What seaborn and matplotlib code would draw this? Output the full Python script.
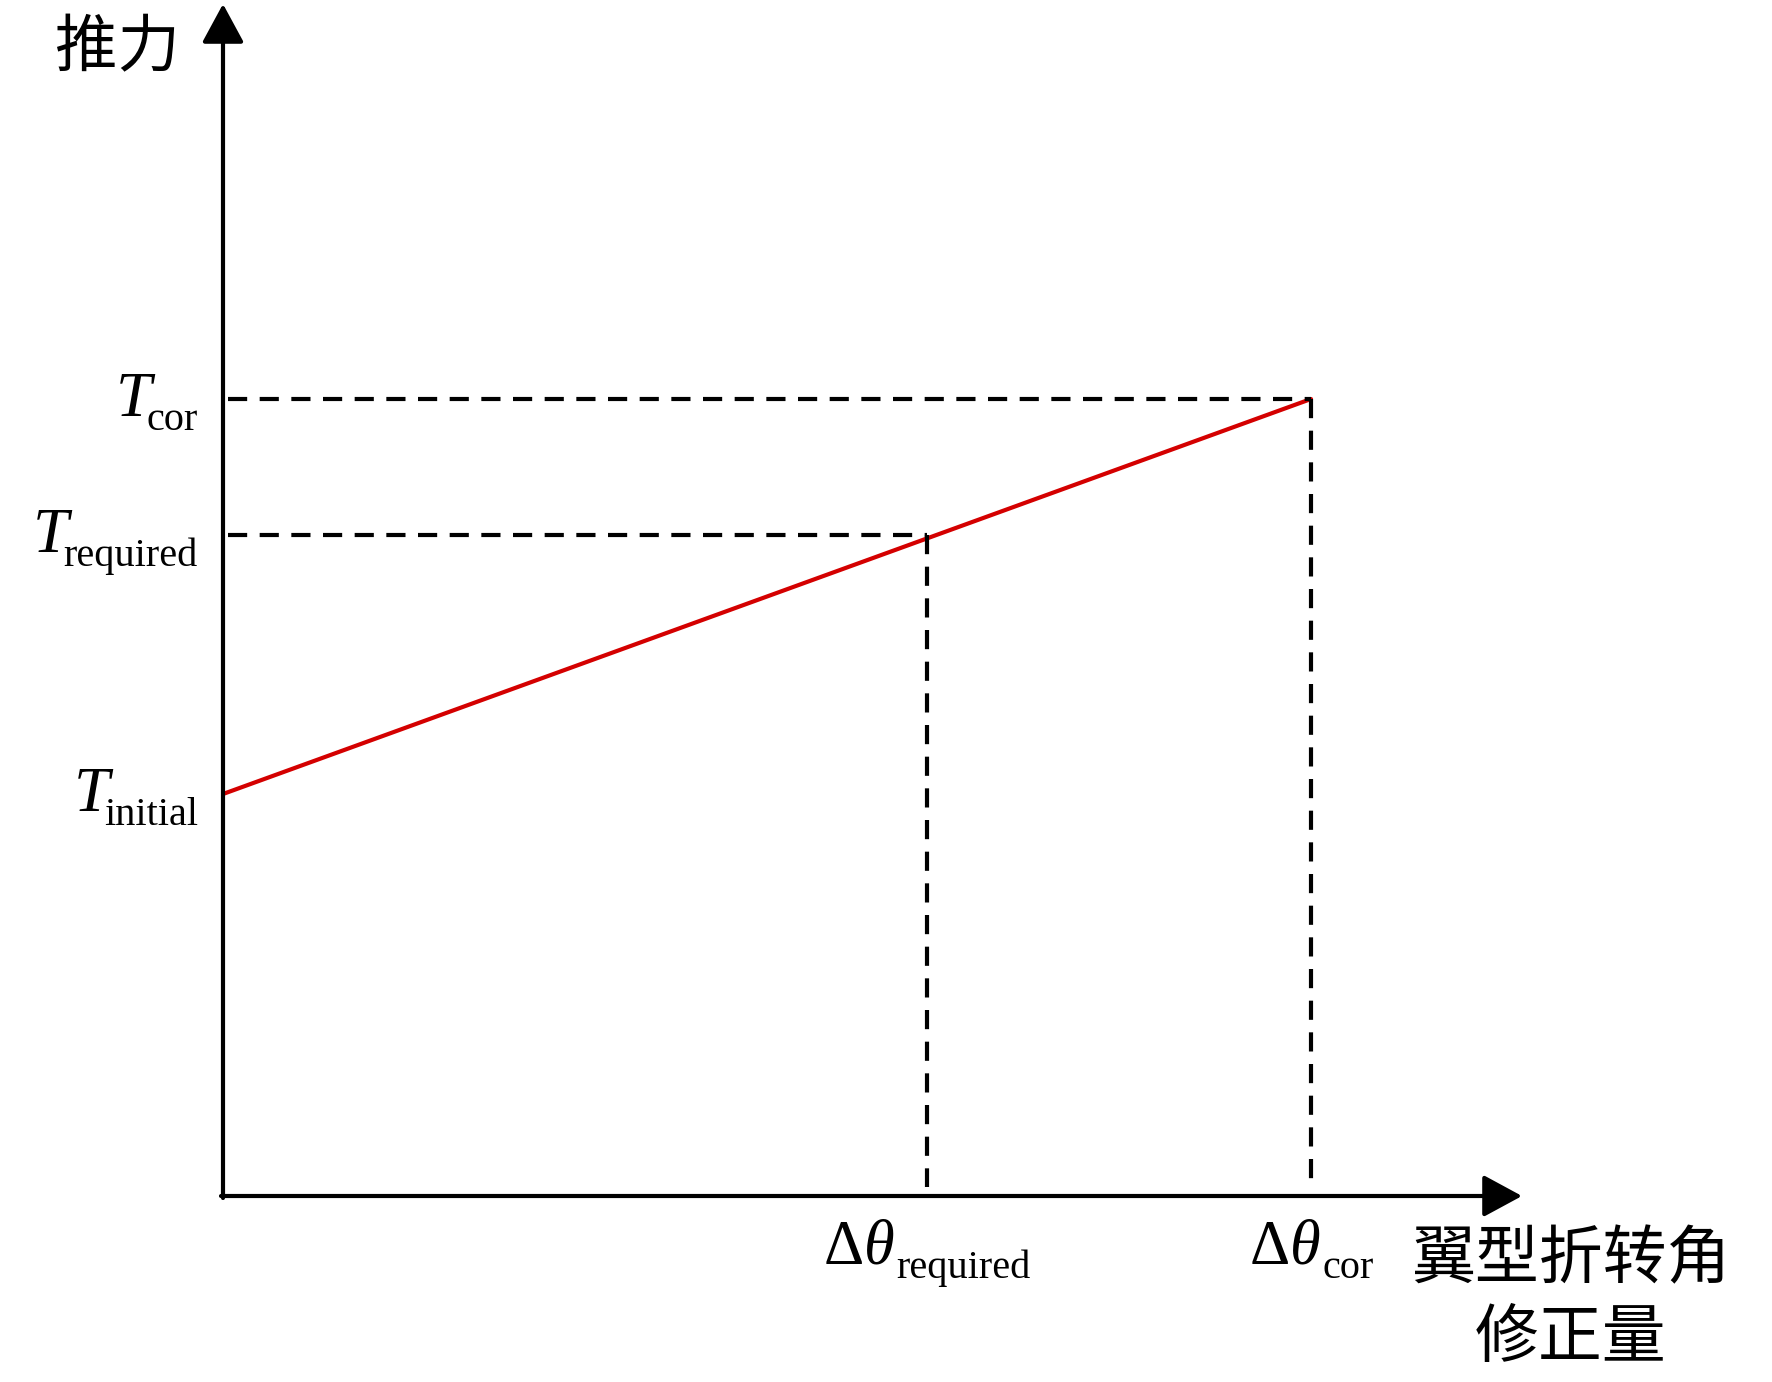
import matplotlib
matplotlib.use('Agg')
import matplotlib.pyplot as plt
import seaborn as sns
import pandas as pd

# schematic values (arbitrary units)
dtheta = [0, 1088]          # correction angle: start, cor
thrust = [402, 797]         # T_initial -> T_cor
dtheta_required = 704
dtheta_cor = 1088
T_initial = 402
T_required = 661
T_cor = 797

x_max = 1297
y_max = 1192

y_ticks = [T_cor, T_required, T_initial]
y_subs = ['cor', 'required', 'initial']
x_ticks = [dtheta_required, dtheta_cor]
x_subs = ['required', 'cor']

sns.set_style('white')
plt.rcParams['font.family'] = ['Liberation Serif', 'DejaVu Serif']
plt.rcParams['text.color'] = 'black'
plt.rcParams['mathtext.fontset'] = 'custom'
plt.rcParams['mathtext.rm'] = 'Liberation Serif'
plt.rcParams['mathtext.it'] = 'Liberation Serif:italic'

W, H = 1772, 1382
ox, oy = 223, 1196
fig = plt.figure(figsize=(W / 100, H / 100), dpi=100)
ax = fig.add_axes([ox / W, (H - oy) / H, x_max / W, y_max / H])
ax.set_xlim(0, x_max)
ax.set_ylim(0, y_max)
ax.axis('off')

# red thrust line
df = pd.DataFrame({'dtheta': dtheta, 'thrust': thrust})
sns.lineplot(data=df, x='dtheta', y='thrust', color='#d40000', lw=3, ax=ax)

# dashed guide lines
dash = dict(color='black', lw=3, dashes=(4.6, 3.0))
ax.plot([5, dtheta_cor], [T_cor, T_cor], **dash)
ax.plot([dtheta_cor, dtheta_cor], [T_cor, 9], **dash)
ax.plot([5, dtheta_required], [T_required, T_required], **dash)
ax.plot([dtheta_required, dtheta_required], [T_required, 9], **dash)

# axes with arrows
arrow = dict(arrowstyle='-|>,head_length=2.4,head_width=1.3', lw=3, color='black',
             shrinkA=0, shrinkB=0, mutation_scale=10)
ax.annotate('', xy=(x_max + 2, 0), xytext=(-2, 0), arrowprops=arrow, annotation_clip=False)
ax.annotate('', xy=(0, y_max), xytext=(0, -2), arrowprops=arrow, annotation_clip=False)

renderer = fig.canvas.get_renderer()


def width(t):
    return t.get_window_extent(renderer).width


# y labels: italic T with a roman subscript, right aligned
for y, sub in zip(y_ticks, y_subs):
    s = ax.text(-25, y - 31, sub, ha='right', va='baseline', fontsize=29)
    left = -25 - width(s)
    ax.text(left + 5, y - 17, 'T', ha='right', va='baseline', fontsize=46,
            style='italic')

# x labels: delta theta with a roman subscript, centred on the tick
for x, sub in zip(x_ticks, x_subs):
    m = ax.text(0, -67, r'$\Delta\theta$', ha='left', va='baseline', fontsize=45)
    s = ax.text(0, -82, sub, ha='left', va='baseline', fontsize=29)
    wm, ws = width(m), width(s)
    left = x - (wm + ws + 2) / 2
    m.set_x(left)
    s.set_x(left + wm + 2)

cjk = ['Noto Sans CJK SC', 'DejaVu Sans']
ax.text(-105, 1148, '推力', ha='center', va='center', fontsize=45, family=cjk,
        fontweight='light')
ax.text(1348, -103, '翼型折转角\n修正量', ha='center', va='center', fontsize=46,
        family=cjk, fontweight='light', linespacing=1.24)

fig.savefig('out.png', dpi=100)
